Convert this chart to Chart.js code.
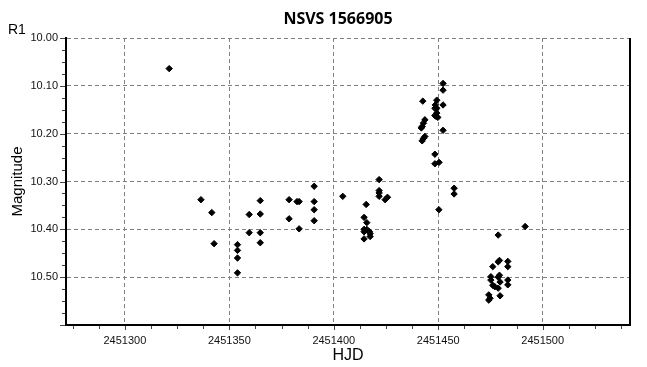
<!DOCTYPE html>
<html>
<head>
<meta charset="utf-8">
<script src="https://cdn.jsdelivr.net/npm/chart.js@4"></script>
<style>
  html, body { margin: 0; padding: 0; background: #fff; }
</style>
</head>
<body>
<canvas id="chart" width="647" height="367"></canvas>
<script>
const chartTitle = 'NSVS 1566905';
const filterLabel = 'R1';
const xTitle = 'HJD';
const yTitle = 'Magnitude';

const hjd = [
  2451321.2, 2451336.4, 2451341.6, 2451342.7, 2451353.9, 2451353.9, 2451353.9, 2451353.9,
  2451359.5, 2451359.5, 2451364.8, 2451364.8, 2451364.8, 2451364.8, 2451378.6, 2451378.6,
  2451382.4, 2451383.4, 2451383.4, 2451390.6, 2451390.6, 2451390.6, 2451390.6, 2451404.3,
  2451421.7, 2451421.7, 2451421.7, 2451421.7, 2451424.6, 2451425.7, 2451415.5, 2451414.5,
  2451415.8, 2451414.5, 2451415.8, 2451414.5, 2451417.1, 2451417.4, 2451417.4, 2451414.5,
  2451452.3, 2451452.3, 2451442.6, 2451449.3, 2451452.3, 2451448.6, 2451448.4, 2451449.3,
  2451449.3, 2451449.0, 2451448.4, 2451449.8, 2451443.6, 2451442.9, 2451442.3, 2451441.9,
  2451452.3, 2451443.6, 2451442.9, 2451442.3, 2451448.4, 2451448.4, 2451450.4, 2451457.6,
  2451457.6, 2451450.3,
  2451491.6, 2451478.7, 2451479.3, 2451478.7, 2451476.1, 2451483.3, 2451483.3, 2451475.2,
  2451475.2, 2451479.3, 2451478.7, 2451479.6, 2451476.1, 2451477.1, 2451483.3, 2451483.3,
  2451478.7, 2451474.2, 2451474.8, 2451474.2, 2451479.6
];
const mag = [
  10.064, 10.338, 10.365, 10.430, 10.432, 10.444, 10.460, 10.491,
  10.369, 10.407, 10.340, 10.368, 10.407, 10.428, 10.338, 10.378,
  10.342, 10.342, 10.399, 10.310, 10.342, 10.359, 10.382, 10.331,
  10.296, 10.319, 10.324, 10.331, 10.338, 10.333, 10.348, 10.375,
  10.386, 10.400, 10.400, 10.405, 10.405, 10.409, 10.415, 10.420,
  10.095, 10.109, 10.132, 10.130, 10.140, 10.140, 10.147, 10.147,
  10.157, 10.164, 10.162, 10.166, 10.171, 10.178, 10.185, 10.188,
  10.193, 10.206, 10.210, 10.215, 10.243, 10.263, 10.260, 10.314,
  10.326, 10.359,
  10.394, 10.412, 10.465, 10.468, 10.478, 10.467, 10.478, 10.499,
  10.506, 10.496, 10.500, 10.510, 10.517, 10.520, 10.506, 10.516,
  10.523, 10.537, 10.544, 10.548, 10.539
];

const xTicks = [2451300, 2451350, 2451400, 2451450, 2451500];
const yTicks = [10.0, 10.1, 10.2, 10.3, 10.4, 10.5];
const xMin = 2451271.8, xMax = 2451541.8;
const yMin = 10.0, yMax = 10.6;

const points = hjd.map((v, i) => ({ x: v, y: mag[i] }));

const framePlugin = {
  id: 'frame',
  afterDraw(chart) {
    const { ctx, chartArea: a, scales: { x, y } } = chart;
    ctx.save();

    // right border
    ctx.strokeStyle = '#000';
    ctx.lineWidth = 2;
    ctx.beginPath();
    ctx.moveTo(a.right, a.top);
    ctx.lineTo(a.right, a.bottom + 1);
    ctx.stroke();

    // outside ticks, major + minor
    ctx.lineWidth = 1;
    ctx.strokeStyle = '#444';
    ctx.beginPath();
    for (let v = 2451275; v <= xMax; v += 12.5) {
      const px = Math.round(x.getPixelForValue(v)) + 0.5;
      const len = v % 50 === 0 ? 4 : 3;
      ctx.moveTo(px, a.bottom + 1);
      ctx.lineTo(px, a.bottom + 1 + len);
    }
    for (let i = 0; i <= 24; i++) {
      const py = Math.round(y.getPixelForValue(yMin + i * 0.025)) + 0.5;
      const len = i % 4 === 0 ? 5 : 3;
      ctx.moveTo(a.left - 1, py);
      ctx.lineTo(a.left - 1 - len, py);
    }
    ctx.stroke();

    // texts
    ctx.fillStyle = '#000';
    ctx.textAlign = 'center';
    ctx.textBaseline = 'alphabetic';
    ctx.font = 'bold 16px "Open Sans"';
    ctx.fillText(chartTitle, (a.left + a.right) / 2 - 10, 24);

    ctx.textAlign = 'left';
    ctx.font = '14px "Liberation Sans"';
    ctx.fillText(filterLabel, 8, 34);

    ctx.textAlign = 'center';
    ctx.font = '16px "Liberation Sans"';
    ctx.fillText(xTitle, (a.left + a.right) / 2, 360);

    ctx.translate(22, (a.top + a.bottom) / 2);
    ctx.rotate(-Math.PI / 2);
    ctx.font = '15px "Liberation Sans"';
    ctx.fillText(yTitle, 0, 0);
    ctx.restore();
  }
};

const ctx = document.getElementById('chart').getContext('2d');
const chart = new Chart(ctx, {
  type: 'scatter',
  data: {
    datasets: [{
      data: points,
      pointStyle: 'rectRot',
      pointRadius: 3.2,
      pointBorderWidth: 1,
      backgroundColor: '#000',
      borderColor: '#000'
    }]
  },
  options: {
    responsive: false,
    animation: false,
    devicePixelRatio: 1,
    layout: { padding: { top: 38, right: 17, left: 0, bottom: 0 } },
    plugins: {
      legend: { display: false },
      tooltip: { enabled: false },
      title: { display: false }
    },
    scales: {
      x: {
        type: 'linear',
        min: xMin,
        max: xMax,
        afterBuildTicks: axis => { axis.ticks = xTicks.map(v => ({ value: v })); },
        afterFit: axis => { axis.height = 42; },
        border: { display: true, color: '#000', width: 2, dash: [4, 3] },
        grid: { color: '#808080', drawTicks: false, lineWidth: 1 },
        ticks: {
          padding: 9,
          maxRotation: 0,
          color: '#111',
          font: { family: 'Liberation Sans', size: 11 },
          callback: v => String(v)
        }
      },
      y: {
        type: 'linear',
        reverse: true,
        min: yMin,
        max: yMax,
        afterBuildTicks: axis => { axis.ticks = yTicks.map(v => ({ value: v })); },
        afterFit: axis => { axis.width = 66; },
        border: { display: true, color: '#000', width: 2, dash: [4, 3] },
        grid: { color: '#808080', drawTicks: false, lineWidth: 1 },
        ticks: {
          padding: 8,
          color: '#111',
          font: { family: 'Liberation Sans', size: 11 },
          callback: v => Number(v).toFixed(2)
        }
      }
    }
  },
  plugins: [framePlugin]
});
</script>
</body>
</html>
